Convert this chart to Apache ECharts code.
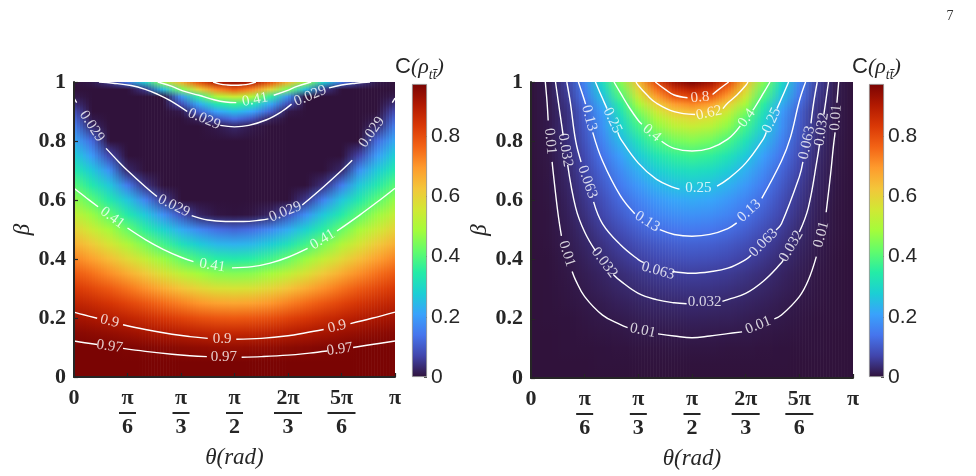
<!DOCTYPE html>
<html>
<head>
<meta charset="utf-8">
<script src="https://cdn.jsdelivr.net/npm/echarts@6/dist/echarts.min.js"></script>
<style>
  html, body { margin: 0; padding: 0; background: #fff; }
  #chart { width: 976px; height: 476px; }
</style>
</head>
<body>
<div id="chart"></div>
<script>
const thetaDeg = [0, 10, 20, 30, 40, 50, 60, 70, 80, 90, 100, 110, 120, 130, 140, 150, 160, 170, 180]
const betaVals = [0, 0.05, 0.1, 0.15, 0.2, 0.25, 0.3, 0.35, 0.4, 0.45, 0.5, 0.55, 0.6, 0.65, 0.7, 0.75, 0.8, 0.85, 0.875, 0.9, 0.925, 0.95, 0.975, 1]

const thetaTicks = [0, 30, 60, 90, 120, 150, 180]
const thetaTickLabels = ['0', 'π/6', 'π/3', 'π/2', '2π/3', '5π/6', 'π']
const betaTicks = [0, 0.2, 0.4, 0.6, 0.8, 1]
const betaTickLabels = ['0', '0.2', '0.4', '0.6', '0.8', '1']
const cbarTicks = [0, 0.2, 0.4, 0.6, 0.8]
const cbarTickLabels = ['0', '0.2', '0.4', '0.6', '0.8']
const cMax = 0.973

// left panel, one row per beta
const concLeft = [
  [1, 1, 1, 1, 1, 1, 1, 1, 1, 1, 1, 1, 1, 1, 1, 1, 1, 1, 1],
  [.995, .994, .993, .992, .99, .989, .987, .986, .985, .985, .985, .986, .987, .989, .99, .992, .993, .994, .995],
  [.98, .977, .973, .968, .963, .957, .951, .945, .942, .94, .942, .945, .951, .957, .963, .968, .973, .977, .98],
  [.956, .949, .94, .93, .918, .905, .892, .881, .873, .871, .873, .881, .892, .905, .918, .93, .94, .949, .956],
  [.923, .911, .896, .878, .858, .837, .816, .797, .785, .781, .785, .797, .816, .837, .858, .878, .896, .911, .923],
  [.882, .864, .842, .816, .787, .756, .727, .701, .683, .677, .683, .701, .727, .756, .787, .816, .842, .864, .882],
  [.835, .81, .78, .745, .707, .667, .629, .596, .573, .567, .573, .596, .629, .667, .707, .745, .78, .81, .835],
  [.782, .75, .712, .668, .621, .572, .526, .487, .461, .453, .461, .487, .526, .572, .621, .668, .712, .75, .782],
  [.724, .686, .639, .587, .533, .476, .423, .379, .35, .34, .35, .379, .423, .476, .533, .587, .639, .686, .724],
  [.663, .618, .565, .505, .443, .38, .322, .274, .242, .232, .242, .274, .322, .38, .443, .505, .565, .618, .663],
  [.6, .547, .489, .423, .354, .286, .224, .168, .13, .115, .13, .168, .224, .286, .354, .423, .489, .547, .6],
  [.535, .477, .413, .341, .268, .18, .09, .025, .006, .002, .006, .025, .09, .18, .268, .341, .413, .477, .535],
  [.471, .407, .338, .262, .16, .05, 0, 0, 0, 0, 0, 0, 0, .05, .16, .262, .338, .407, .471],
  [.406, .339, .265, .15, .04, 0, 0, 0, 0, 0, 0, 0, 0, 0, .04, .15, .265, .339, .406],
  [.342, .271, .18, .03, 0, 0, 0, 0, 0, 0, 0, 0, 0, 0, 0, .03, .18, .271, .342],
  [.28, .2, .07, 0, 0, 0, 0, 0, 0, 0, 0, 0, 0, 0, 0, 0, .07, .2, .28],
  [.22, .125, 0, 0, 0, 0, 0, 0, 0, 0, 0, 0, 0, 0, 0, 0, 0, .125, .22],
  [.155, .03, 0, 0, 0, 0, 0, 0, .01, .03, .01, 0, 0, 0, 0, 0, 0, .03, .155],
  [.118, .01, 0, 0, 0, 0, 0, .02, .09, .13, .09, .02, 0, 0, 0, 0, 0, .01, .118],
  [.08, 0, 0, 0, 0, 0, .01, .11, .21, .25, .21, .11, .01, 0, 0, 0, 0, 0, .08],
  [.04, 0, 0, 0, 0, 0, .08, .22, .33, .37, .33, .22, .08, 0, 0, 0, 0, 0, .04],
  [.012, 0, 0, 0, 0, 0, .18, .36, .5, .55, .5, .36, .18, 0, 0, 0, 0, 0, .012],
  [0, 0, 0, 0, .05, .25, .44, .6, .72, .78, .72, .6, .44, .25, .05, 0, 0, 0, 0],
  [0, .01, .05, .14, .28, .48, .66, .8, .91, .94, .91, .8, .66, .48, .28, .14, .05, .01, 0]
]

// right panel, one row per beta
const concRight = [
  [0, 0, 0, 0, 0, 0, 0, 0, 0, 0, 0, 0, 0, 0, 0, 0, 0, 0, 0],
  [0, 0, 0, 0, .001, .001, .001, .001, .001, .001, .001, .001, .001, .001, .001, 0, 0, 0, 0],
  [0, 0, .001, .001, .002, .003, .004, .004, .005, .005, .005, .004, .004, .003, .002, .001, .001, 0, 0],
  [0, 0, .001, .003, .005, .007, .009, .01, .011, .012, .011, .01, .009, .007, .005, .003, .001, 0, 0],
  [0, .001, .002, .005, .009, .012, .016, .019, .02, .021, .02, .019, .016, .012, .009, .005, .002, .001, 0],
  [0, .001, .004, .008, .013, .019, .024, .028, .031, .032, .031, .028, .024, .019, .013, .008, .004, .001, 0],
  [0, .001, .005, .012, .019, .027, .035, .041, .045, .046, .045, .041, .035, .027, .019, .012, .005, .001, 0],
  [0, .002, .007, .015, .025, .036, .046, .054, .059, .061, .059, .054, .046, .036, .025, .015, .007, .002, 0],
  [0, .002, .009, .02, .034, .049, .063, .075, .082, .085, .082, .075, .063, .049, .034, .02, .009, .002, 0],
  [0, .003, .012, .026, .044, .063, .082, .097, .107, .11, .107, .097, .082, .063, .044, .026, .012, .003, 0],
  [0, .004, .015, .033, .057, .082, .107, .127, .14, .145, .14, .127, .107, .082, .057, .033, .015, .004, 0],
  [0, .004, .018, .041, .071, .103, .134, .16, .177, .183, .177, .16, .134, .103, .071, .041, .018, .004, 0],
  [0, .005, .021, .049, .084, .123, .161, .192, .213, .22, .213, .192, .161, .123, .084, .049, .021, .005, 0],
  [0, .006, .025, .057, .1, .147, .193, .231, .256, .265, .256, .231, .193, .147, .1, .057, .025, .006, 0],
  [0, .007, .028, .067, .117, .173, .228, .274, .304, .315, .304, .274, .228, .173, .117, .067, .028, .007, 0],
  [0, .008, .033, .077, .137, .204, .27, .326, .362, .375, .362, .326, .27, .204, .137, .077, .033, .008, 0],
  [0, .0095, .037, .09, .162, .243, .322, .39, .434, .45, .434, .39, .322, .243, .162, .09, .037, .0095, 0],
  [0, .011, .04, .1, .185, .282, .38, .464, .52, .54, .52, .464, .38, .282, .185, .1, .04, .011, 0],
  [0, .011, .04, .105, .19, .297, .405, .499, .563, .585, .563, .499, .405, .297, .19, .105, .04, .011, 0],
  [0, .012, .042, .11, .203, .323, .444, .549, .62, .645, .62, .549, .444, .323, .203, .11, .042, .012, 0],
  [0, .012, .047, .123, .227, .353, .49, .609, .691, .72, .691, .609, .49, .353, .227, .123, .047, .012, 0],
  [0, .013, .053, .139, .257, .392, .548, .687, .782, .815, .782, .687, .548, .392, .257, .139, .053, .013, 0],
  [0, .013, .058, .152, .28, .422, .595, .748, .853, .89, .853, .748, .595, .422, .28, .152, .058, .013, 0],
  [0, .014, .063, .166, .306, .454, .644, .813, .928, .97, .928, .813, .644, .454, .306, .166, .063, .014, 0]
]

// contour lines, [theta, beta]; null = gap left for a label
const left097 = [[0, .122], [6, .116], [13, .11], null, [27.5, .097], [40, .087], [55, .077], [65, .072], [74.5, .069], null, [94, .067], [105, .069], [120, .074], [132, .081], [142, .088], null, [156.5, .1], [168, .111], [180, .122]]
const left09 = [[0, .22], [6, .21], [13, .199], null, [27.5, .177], [40, .161], [55, .145], [65, .137], [75, .131], null, [91, .128], [105, .131], [120, .14], [130, .15], [140, .161], null, [155, .181], [167, .199], [180, .22]]
const left041 = [[0, .64], [7, .607], [13.5, .577], null, [30, .505], [40, .466], [50, .433], [60, .406], [67, .391], null, [88.6, .37], [100, .374], [110, .386], [120, .406], [131, .436], null, [147.5, .495], [160, .548], [170, .593], [180, .64]]
const left0029 = [[0, .945], [1.5, .93], null, [18, .775], [25, .73], [30, .7], [40, .645], [46.5, .612], null, [66, .547], [75, .532], [85, .527], [95, .527], [105, .532], [109, .536], null, [128, .583], [140, .645], [150, .7], [156, .735], null, [178.5, .93], [180, .945]]
const leftCap0029 = [[14, 1], [22, .996], [32, .988], [40, .975], [47, .958], [54, .937], [63.5, .9], null, [82, .853], [90, .848], [98, .853], [108, .872], [116.5, .9], [122, .925], null, [143, .98], [150, .99], [158, .996], [166, 1]]
const leftCap041 = [[47, 1], [55, .985], [61, .97], [70, .955], [78.5, .94], [85, .932], [91, .93], null, [112, .955], [119, .97], [125, .985], [133, 1]]
const leftCap09 = [[78, 1], [82, .993], [86, .99], [90, .989], [94, .99], [98, .993], [102, 1]]

const right08 = [[69.5, 1], [75, .975], [80, .956], [87.5, .947], null, [101.5, .958], [105, .975], [110.5, 1]]
const right062 = [[58.7, 1], [60, .988], [65, .955], [70, .929], [80, .9], [91.7, .89], null, [107.3, .91], [110, .929], [115, .955], [120, .988], [121.3, 1]]
const right04 = [[46.4, 1], [50, .963], [55, .913], [60, .87], [62, .857], null, [73, .8], [80, .776], [90, .767], [100, .776], [110, .807], [117, .852], null, [124, .905], [125, .913], [130, .963], [133.6, 1]]
const right025 = [[36, 1], [40, .944], [42.5, .91], null, [48.5, .83], [50, .809], [60, .726], [70, .672], [80, .643], [83, .638], null, [104, .648], [110, .672], [120, .726], [130, .809], [131.5, .83], null, [137.5, .91], [140, .944], [144, 1]]
const right013 = [[26.5, 1], [30, .936], [30.5, .925], null, [34.5, .83], [40, .733], [50, .615], [58, .555], null, [72, .501], [80, .485], [90, .479], [100, .485], [110, .505], [115, .524], null, [129, .607], [140, .733], [145, .812], [150, .936], [153.5, 1]]
const right0063 = [[20, 1], [22, .93], [25, .8], [28, .73], null, [35, .595], [40, .521], [50, .45], [60, .4], [63, .39], null, [79, .36], [90, .354], [100, .359], [110, .371], [120, .4], [123, .415], null, [137, .5], [140, .521], [150, .68], [152, .73], null, [156.5, .86], [158, .93], [160, 1]]
const right0032 = [[13.7, 1], [15, .945], [17.5, .84], [18, .82], null, [20.5, .72], [25, .575], [30, .493], [36, .43], null, [46, .35], [50, .328], [60, .286], [70, .265], [80, .254], [87, .251], null, [107, .259], [110, .265], [120, .286], [130, .328], [140, .389], [141, .398], null, [150, .493], [155, .575], [160, .74], [161.3, .79], null, [163.7, .89], [165, .945], [166.3, 1]]
const right001 = [[8, 1], [9, .93], [9.6, .87], null, [11.8, .73], [12.5, .69], [15, .56], [17, .48], null, [23, .36], [25, .33], [30, .275], [40, .2125], [50, .18], [54, .17], null, [71, .149], [80, .142], [90, .136], [100, .142], [110, .15], [118, .156], null, [136, .2], [140, .2125], [150, .275], [155, .33], [159.5, .41], null, [165, .56], [167.5, .69], [169, .78], [170, .83], null, [171, .93], [172, 1]]

// contour labels: [theta, beta, text, angle]
const leftLabels = [
  [20, .104, '0.97', -8], [84, .068, '0.97', 0], [149, .094, '0.97', 8],
  [20, .189, '0.9', -14], [83, .13, '0.9', 0], [147.5, .171, '0.9', 14],
  [21.5, .54, '0.41', -36], [77.5, .378, '0.41', -9], [139.5, .466, '0.41', 31],
  [10, .85, '0.029', -57], [56, .58, '0.029', -26], [118.5, .56, '0.029', 22], [167, .83, '0.029', 55],
  [73, .874, '0.029', -23], [132.5, .953, '0.029', 23], [101.5, .94, '0.41', 11]
]
const rightLabels = [
  [94.5, .948, '0.8', 5], [99.5, .895, '0.62', 12],
  [67.5, .828, '0.4', -40], [120.6, .878, '0.4', 53],
  [45.5, .87, '0.25', -65], [93.5, .64, '0.25', 0], [134.5, .87, '0.25', 65],
  [32.5, .878, '0.13', -75], [65, .528, '0.13', -32], [122, .565, '0.13', 42],
  [31.5, .662, '0.063', -70], [71, .362, '0.063', -16], [130, .457, '0.063', 45], [154.3, .795, '0.063', 78],
  [19.2, .77, '0.032', -81], [41, .39, '0.032', -53], [97, .255, '0.032', 0], [145.5, .445, '0.032', 60], [162.5, .84, '0.032', 82],
  [10.7, .8, '0.01', -85], [20, .42, '0.01', -72], [62.5, .16, '0.01', -12], [127, .178, '0.01', 22], [162.3, .485, '0.01', 75], [170.5, .88, '0.01', 86]
]

const TURBO = ['#30123b', '#4145ab', '#4675ed', '#39a2fc', '#1bcfd4', '#24eca6', '#61fc6c', '#a4fc3b',
  '#d1e834', '#f3c63a', '#fe9b2d', '#f36315', '#d93806', '#b11901', '#7a0403']
const INK = '#262626'
const SERIF = '"Liberation Serif", "Times New Roman", serif'
const SANS = '"Liberation Sans", Arial, sans-serif'

function turbo(v) {
  return echarts.color.lerp(Math.max(0, Math.min(v / cMax, 1)), TURBO)
}
// one item per gap between neighbouring theta samples
function intervals() {
  return thetaDeg.slice(0, -1).map((t, j) => [t, thetaDeg[j + 1], 0, 1, j])
}
// each gap is shaded with thin strips, every strip coloured top to bottom
// through the beta samples and blended between the two bounding columns
function stripRenderer(grid) {
  const colColors = thetaDeg.map((t, j) => betaVals.map((b, i) => turbo(grid[i][j])))
  const K = 6
  return function (params, api) {
    const j = api.value(4)
    const a = api.coord([api.value(0), 1])
    const b = api.coord([api.value(1), 0])
    const w = (b[0] - a[0]) / K
    const children = []
    for (let k = 0; k < K; k++) {
      const f = (k + 0.5) / K
      const stops = []
      for (let i = betaVals.length - 1; i >= 0; i--) {
        stops.push({ offset: 1 - betaVals[i], color: echarts.color.lerp(f, [colColors[j][i], colColors[j + 1][i]]) })
      }
      children.push({
        type: 'rect',
        shape: { x: a[0] + k * w, y: a[1], width: w + 0.6, height: b[1] - a[1] },
        style: { fill: new echarts.graphic.LinearGradient(0, 0, 0, 1, stops) }
      })
    }
    return { type: 'group', children }
  }
}

function thetaLabel(v) {
  const s = thetaTickLabels[thetaTicks.indexOf(Math.round(v))]
  if (s === undefined) return ''
  if (s.indexOf('/') < 0) return '{n|' + s + '}'
  const [num, den] = s.split('/')
  return '{n|' + num + '}\n{' + (num.length > 1 ? 'bar2' : 'bar1') + '| }\n{n|' + den + '}'
}
function betaLabel(v) {
  const i = betaTicks.findIndex(t => Math.abs(t - v) < 1e-6)
  return i < 0 ? '' : betaTickLabels[i]
}
function cbarLabel(v) {
  const i = cbarTicks.findIndex(t => Math.abs(t - v) < 1e-6)
  return i < 0 ? '' : cbarTickLabels[i]
}

function plotX(gi) {
  return {
    type: 'value', gridIndex: gi, min: 0, max: 180, interval: 30, z: 10,
    axisLine: { show: true, onZero: false, lineStyle: { color: INK, width: 2 } },
    axisTick: { show: true, inside: true, length: 4, lineStyle: { color: INK, width: 1.2 } },
    splitLine: { show: false },
    axisLabel: {
      margin: 10, formatter: thetaLabel,
      rich: {
        n: { fontFamily: SERIF, fontWeight: 'bold', fontSize: 22, lineHeight: 23, color: INK },
        bar1: { width: 17, height: 2, lineHeight: 6, backgroundColor: INK },
        bar2: { width: 28, height: 2, lineHeight: 6, backgroundColor: INK }
      }
    },
    name: 'θ(rad)', nameLocation: 'middle', nameGap: 69,
    nameTextStyle: { fontFamily: SERIF, fontStyle: 'italic', fontSize: 23, color: INK }
  }
}
function plotY(gi) {
  return {
    type: 'value', gridIndex: gi, min: 0, max: 1, interval: 0.2, z: 10,
    axisLine: { show: true, onZero: false, lineStyle: { color: INK, width: 2 } },
    axisTick: { show: true, inside: true, length: 4, lineStyle: { color: INK, width: 1.2 } },
    splitLine: { show: false },
    axisLabel: { margin: 8, formatter: betaLabel, fontFamily: SERIF, fontWeight: 'bold', fontSize: 22, color: INK },
    name: 'β', nameLocation: 'middle', nameGap: 40, nameRotate: 90,
    nameTextStyle: { fontFamily: SERIF, fontStyle: 'italic', fontSize: 23, color: INK }
  }
}
function cbarY(gi) {
  return {
    type: 'value', gridIndex: gi, position: 'right', min: 0, max: cMax,
    axisLine: { show: false },
    axisTick: { show: true, inside: true, length: 3, customValues: cbarTicks, lineStyle: { color: '#555', width: 1 } },
    splitLine: { show: false },
    axisLabel: { margin: 4, customValues: cbarTicks, formatter: cbarLabel, fontFamily: SANS, fontSize: 21, color: INK }
  }
}

function contourSeries(pts, gi) {
  return {
    type: 'line', xAxisIndex: gi, yAxisIndex: gi, smooth: 0.4, symbol: 'none', silent: true,
    connectNulls: false, clip: true,
    lineStyle: { color: '#ffffff', width: 1.4 },
    data: pts.map(p => (p ? p : ['-', '-']))
  }
}
function labelSeries(list, gi) {
  return {
    type: 'scatter', xAxisIndex: gi, yAxisIndex: gi, symbolSize: 1, silent: true, z: 4,
    itemStyle: { color: 'rgba(0,0,0,0)' },
    label: { show: true, position: 'inside', color: '#ffffff', fontFamily: SERIF, fontSize: 15 },
    labelLayout: { hideOverlap: false },
    data: list.map(l => ({ value: [l[0], l[1]], label: { show: true, formatter: l[2], rotate: l[3] } }))
  }
}
function cbarSeries(gi) {
  return {
    type: 'bar', xAxisIndex: gi, yAxisIndex: gi, barWidth: '100%', silent: true,
    data: [cMax],
    itemStyle: {
      color: new echarts.graphic.LinearGradient(0, 1, 0, 0, TURBO.map((c, i) => ({ offset: i / (TURBO.length - 1), color: c }))),
      borderColor: '#8c8c8c', borderWidth: 0.8
    }
  }
}

const titleRich = {
  c: { fontFamily: SANS, fontSize: 22, fill: INK, lineHeight: 30, verticalAlign: 'middle' },
  p: { fontFamily: SERIF, fontStyle: 'italic', fontSize: 22, fill: INK, lineHeight: 30, verticalAlign: 'middle' },
  s: { fontFamily: SERIF, fontStyle: 'italic', fontSize: 14, fill: INK, lineHeight: 30, verticalAlign: 'bottom' }
}
function cbarTitle(x) {
  return {
    type: 'text', x: x, y: 67, silent: true,
    style: { text: '{c|C}{p|(ρ}{s|tt\u0304}{p|)}', rich: titleRich, align: 'center', verticalAlign: 'middle' }
  }
}

const chart = echarts.init(document.getElementById('chart'))
chart.setOption({
  animation: false,
  backgroundColor: '#ffffff',
  grid: [
    { left: 74, top: 82, width: 321, height: 295 },
    { left: 531, top: 82, width: 322, height: 296 },
    { left: 412, top: 84, width: 15, height: 293 },
    { left: 869, top: 84, width: 15, height: 293 }
  ],
  xAxis: [
    plotX(0), plotX(1),
    { type: 'category', gridIndex: 2, data: ['c'], show: false },
    { type: 'category', gridIndex: 3, data: ['c'], show: false }
  ],
  yAxis: [plotY(0), plotY(1), cbarY(2), cbarY(3)],
  graphic: [
    cbarTitle(419.5),
    cbarTitle(876.5),
    { type: 'text', x: 950, y: 16, silent: true,
      style: { text: '7', fontFamily: SERIF, fontSize: 14, fill: '#333', align: 'center', verticalAlign: 'middle' } }
  ],
  series: [
    { type: 'custom', xAxisIndex: 0, yAxisIndex: 0, renderItem: stripRenderer(concLeft), clip: true, silent: true,
      encode: { x: [0, 1], y: [2, 3] }, data: intervals() },
    { type: 'custom', xAxisIndex: 1, yAxisIndex: 1, renderItem: stripRenderer(concRight), clip: true, silent: true,
      encode: { x: [0, 1], y: [2, 3] }, data: intervals() },
    ...[left097, left09, left041, left0029, leftCap0029, leftCap041, leftCap09].map(c => contourSeries(c, 0)),
    ...[right08, right062, right04, right025, right013, right0063, right0032, right001].map(c => contourSeries(c, 1)),
    labelSeries(leftLabels, 0),
    labelSeries(rightLabels, 1),
    cbarSeries(2),
    cbarSeries(3)
  ]
})
</script>
</body>
</html>
